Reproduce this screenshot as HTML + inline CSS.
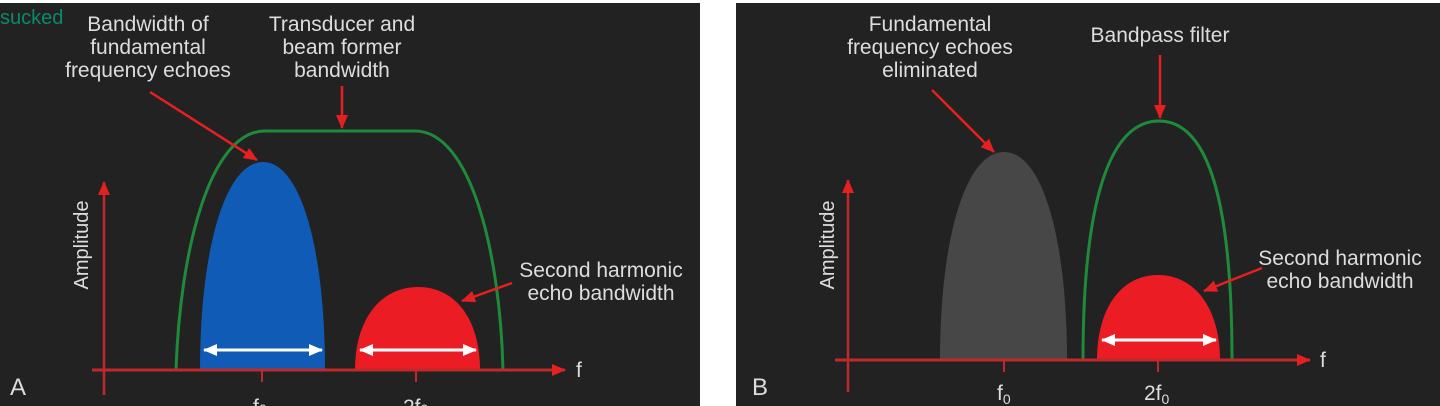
<!DOCTYPE html>
<html><head><style>
html,body{margin:0;padding:0;background:#fff;width:1440px;height:406px;overflow:hidden}
svg text{font-family:"Liberation Sans",sans-serif;fill:#ddd}
</style></head><body>
<svg width="1440" height="406" viewBox="0 0 1440 406">
<defs>
<marker id="ar2" markerWidth="14" markerHeight="12" refX="13" refY="6" orient="auto" markerUnits="userSpaceOnUse"><path d="M0,0 L14,6 L0,12 z" fill="#e52020"/></marker>
<marker id="wa" markerWidth="14" markerHeight="12" refX="13" refY="6" orient="auto-start-reverse" markerUnits="userSpaceOnUse"><path d="M0,0 L14,6 L0,12 z" fill="#fff"/></marker>
</defs>
<rect x="0" y="3" width="700" height="403" fill="#222"/>
<rect x="736" y="3" width="704" height="403" fill="#222"/>

<!-- Panel A -->
<g font-size="21" text-anchor="middle">
<text x="148" y="31">Bandwidth of</text><text x="148" y="54">fundamental</text><text x="148" y="77">frequency echoes</text>
<text x="342" y="31">Transducer and</text><text x="342" y="54">beam former</text><text x="342" y="77">bandwidth</text>
<text x="601" y="277">Second harmonic</text><text x="601" y="300">echo bandwidth</text>
</g>
<text x="0" y="24" font-size="20" style="fill:#0b8a6a">sucked</text>
<path d="M176,370 C180,250 210,131 265,131 L415,131 C470,131 500,250 503,370" fill="none" stroke="#1e8a3a" stroke-width="3"/>
<path d="M200,370 C200,250 225,162 263,162 C301,162 325,250 325,370 Z" fill="#0f5bb5"/>
<path d="M355,370 C355,320 380,287 418,287 C456,287 480,320 480,370 Z" fill="#ec1c24"/>
<line x1="104" y1="395" x2="104" y2="182" stroke="#c0282a" stroke-width="2.5" marker-end="url(#ar2)"/>
<line x1="92" y1="370" x2="565" y2="370" stroke="#c0282a" stroke-width="3" marker-end="url(#ar2)"/>
<line x1="262" y1="370" x2="262" y2="382" stroke="#c0282a" stroke-width="2"/>
<line x1="416" y1="370" x2="416" y2="382" stroke="#c0282a" stroke-width="2"/>
<line x1="204" y1="350" x2="322" y2="350" stroke="#fff" stroke-width="3" marker-start="url(#wa)" marker-end="url(#wa)"/>
<line x1="360" y1="350" x2="476" y2="350" stroke="#fff" stroke-width="3" marker-start="url(#wa)" marker-end="url(#wa)"/>
<line x1="150" y1="92" x2="257" y2="160" stroke="#e52020" stroke-width="2.5" marker-end="url(#ar2)"/>
<line x1="342" y1="86" x2="342" y2="128" stroke="#e52020" stroke-width="2.5" marker-end="url(#ar2)"/>
<line x1="512" y1="283" x2="462" y2="301" stroke="#e52020" stroke-width="2.5" marker-end="url(#ar2)"/>
<text x="576" y="377" font-size="21">f</text>
<text x="10" y="395" font-size="24">A</text>
<text x="0" y="0" font-size="20" transform="translate(88,245) rotate(-90)" text-anchor="middle">Amplitude</text>
<text x="253" y="414" font-size="21">f<tspan font-size="14">0</tspan></text>
<text x="403" y="414" font-size="21">2f<tspan font-size="14">0</tspan></text>

<!-- Panel B -->
<g font-size="21" text-anchor="middle">
<text x="930" y="31">Fundamental</text><text x="930" y="54">frequency echoes</text><text x="930" y="77">eliminated</text>
<text x="1160" y="42">Bandpass filter</text>
<text x="1340" y="265">Second harmonic</text><text x="1340" y="288">echo bandwidth</text>
</g>
<path d="M940,360 C940,240 965,152 1004,152 C1043,152 1067,240 1067,360 Z" fill="#474747"/>
<path d="M1083,360 C1083,200 1110,121 1159,121 C1208,121 1232,200 1232,360" fill="none" stroke="#1e8a3a" stroke-width="3"/>
<path d="M1097,360 C1097,310 1120,275 1158,275 C1196,275 1220,310 1220,360 Z" fill="#ec1c24"/>
<line x1="848" y1="392" x2="848" y2="180" stroke="#c0282a" stroke-width="2.5" marker-end="url(#ar2)"/>
<line x1="835" y1="360" x2="1310" y2="360" stroke="#c0282a" stroke-width="3" marker-end="url(#ar2)"/>
<line x1="1004" y1="360" x2="1004" y2="372" stroke="#c0282a" stroke-width="2"/>
<line x1="1158" y1="360" x2="1158" y2="372" stroke="#c0282a" stroke-width="2"/>
<line x1="1102" y1="340" x2="1216" y2="340" stroke="#fff" stroke-width="3" marker-start="url(#wa)" marker-end="url(#wa)"/>
<line x1="932" y1="90" x2="994" y2="152" stroke="#e52020" stroke-width="2.5" marker-end="url(#ar2)"/>
<line x1="1160" y1="55" x2="1160" y2="118" stroke="#e52020" stroke-width="2.5" marker-end="url(#ar2)"/>
<line x1="1262" y1="268" x2="1204" y2="291" stroke="#e52020" stroke-width="2.5" marker-end="url(#ar2)"/>
<text x="1320" y="367" font-size="21">f</text>
<text x="752" y="395" font-size="24">B</text>
<text x="0" y="0" font-size="20" transform="translate(834,245) rotate(-90)" text-anchor="middle">Amplitude</text>
<text x="997" y="400" font-size="21">f<tspan font-size="14" dy="4">0</tspan></text>
<text x="1144" y="400" font-size="21">2f<tspan font-size="14" dy="4">0</tspan></text>
</svg>
</body></html>
